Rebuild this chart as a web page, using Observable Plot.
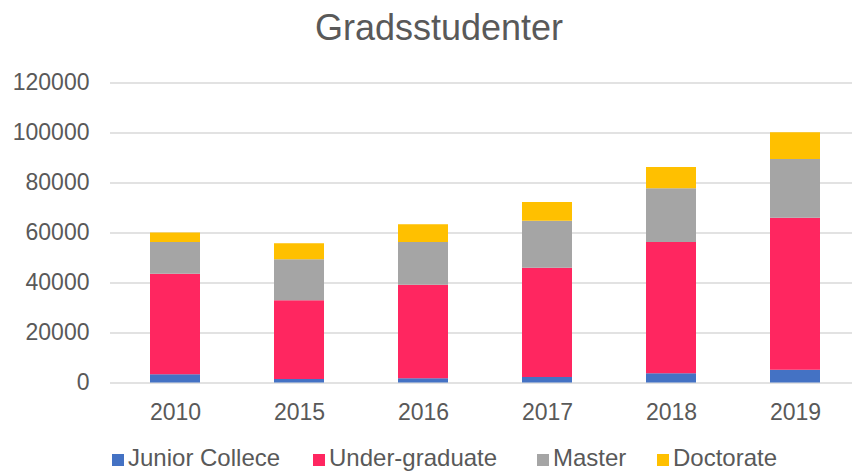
<!DOCTYPE html>
<html>
<head>
<meta charset="utf-8">
<script src="https://cdn.jsdelivr.net/npm/d3@7"></script>
<script src="https://cdn.jsdelivr.net/npm/@observablehq/plot@0.6"></script>
<style>
  html, body { margin: 0; padding: 0; background: #fff; overflow: hidden; }
  #wrap { position: relative; width: 852px; height: 472px; font-family: "Liberation Sans", Arial, sans-serif; color: #595959; }
  #title { position: absolute; left: 0; width: 878px; top: 6px; text-align: center; font-size: 36px; line-height: 44px; }
  #chart { position: absolute; left: 0; top: 60px; }
  .leg { position: absolute; top: 446px; font-size: 24px; line-height: 24px; white-space: nowrap; }
  .sw { position: absolute; top: 454px; width: 12px; height: 12px; }
</style>
</head>
<body>
<div id="wrap">
  <div id="title">Gradsstudenter</div>
  <div id="chart"></div>
  <div id="legend"></div>
</div>
<script>
const years = ["2010", "2015", "2016", "2017", "2018", "2019"];
const seriesNames = ["Junior Collece", "Under-graduate", "Master", "Doctorate"];
const juniorCollege = [3300, 1400, 1700, 2200, 3700, 5100];
const underGraduate = [40200, 31500, 37400, 43700, 52500, 60800];
const master = [12700, 16400, 17100, 18800, 21500, 23500];
const doctorate = [3800, 6400, 7100, 7500, 8500, 10700];
const yTicks = [0, 20000, 40000, 60000, 80000, 100000, 120000];
const colors = ["#4472C4", "#FF2660", "#A5A5A5", "#FFC000"];

const seriesValues = [juniorCollege, underGraduate, master, doctorate];
const data = [];
years.forEach((yr, i) => {
  seriesNames.forEach((s, j) => {
    data.push({year: yr, series: s, value: seriesValues[j][i]});
  });
});

const chart = Plot.plot({
  width: 852,
  height: 380,
  marginLeft: 110,
  marginRight: 0,
  marginTop: 22.5,
  marginBottom: 57.5,
  x: {domain: years, range: [110.8, 859.6], paddingInner: 0.6, paddingOuter: 0.3, label: null},
  y: {domain: [0, 120000], label: null},
  color: {domain: seriesNames, range: colors},
  style: {fontFamily: '"Liberation Sans", Arial, sans-serif', fontSize: "23px", color: "#595959", background: "white", overflow: "visible"},
  marks: [
    Plot.ruleY(yTicks, {stroke: "#d9d9d9", strokeWidth: 1.5}),
    Plot.barY(data, {x: "year", y: "value", fill: "series", order: seriesNames}),
    Plot.axisX({tickSize: 0, tickPadding: 21, label: null, fontSize: 23}),
    Plot.axisY({ticks: yTicks, tickSize: 0, tickPadding: 21, label: null, fontSize: 23, tickFormat: d => String(d)})
  ]
});
document.getElementById("chart").appendChild(chart);

const legendX = [112, 313, 537, 657];
const legend = document.getElementById("legend");
seriesNames.forEach((s, i) => {
  const sw = document.createElement("div");
  sw.className = "sw";
  sw.style.left = legendX[i] + "px";
  sw.style.background = colors[i];
  legend.appendChild(sw);
  const t = document.createElement("div");
  t.className = "leg";
  t.style.left = (legendX[i] + 16) + "px";
  t.textContent = s;
  legend.appendChild(t);
});
</script>
</body>
</html>
